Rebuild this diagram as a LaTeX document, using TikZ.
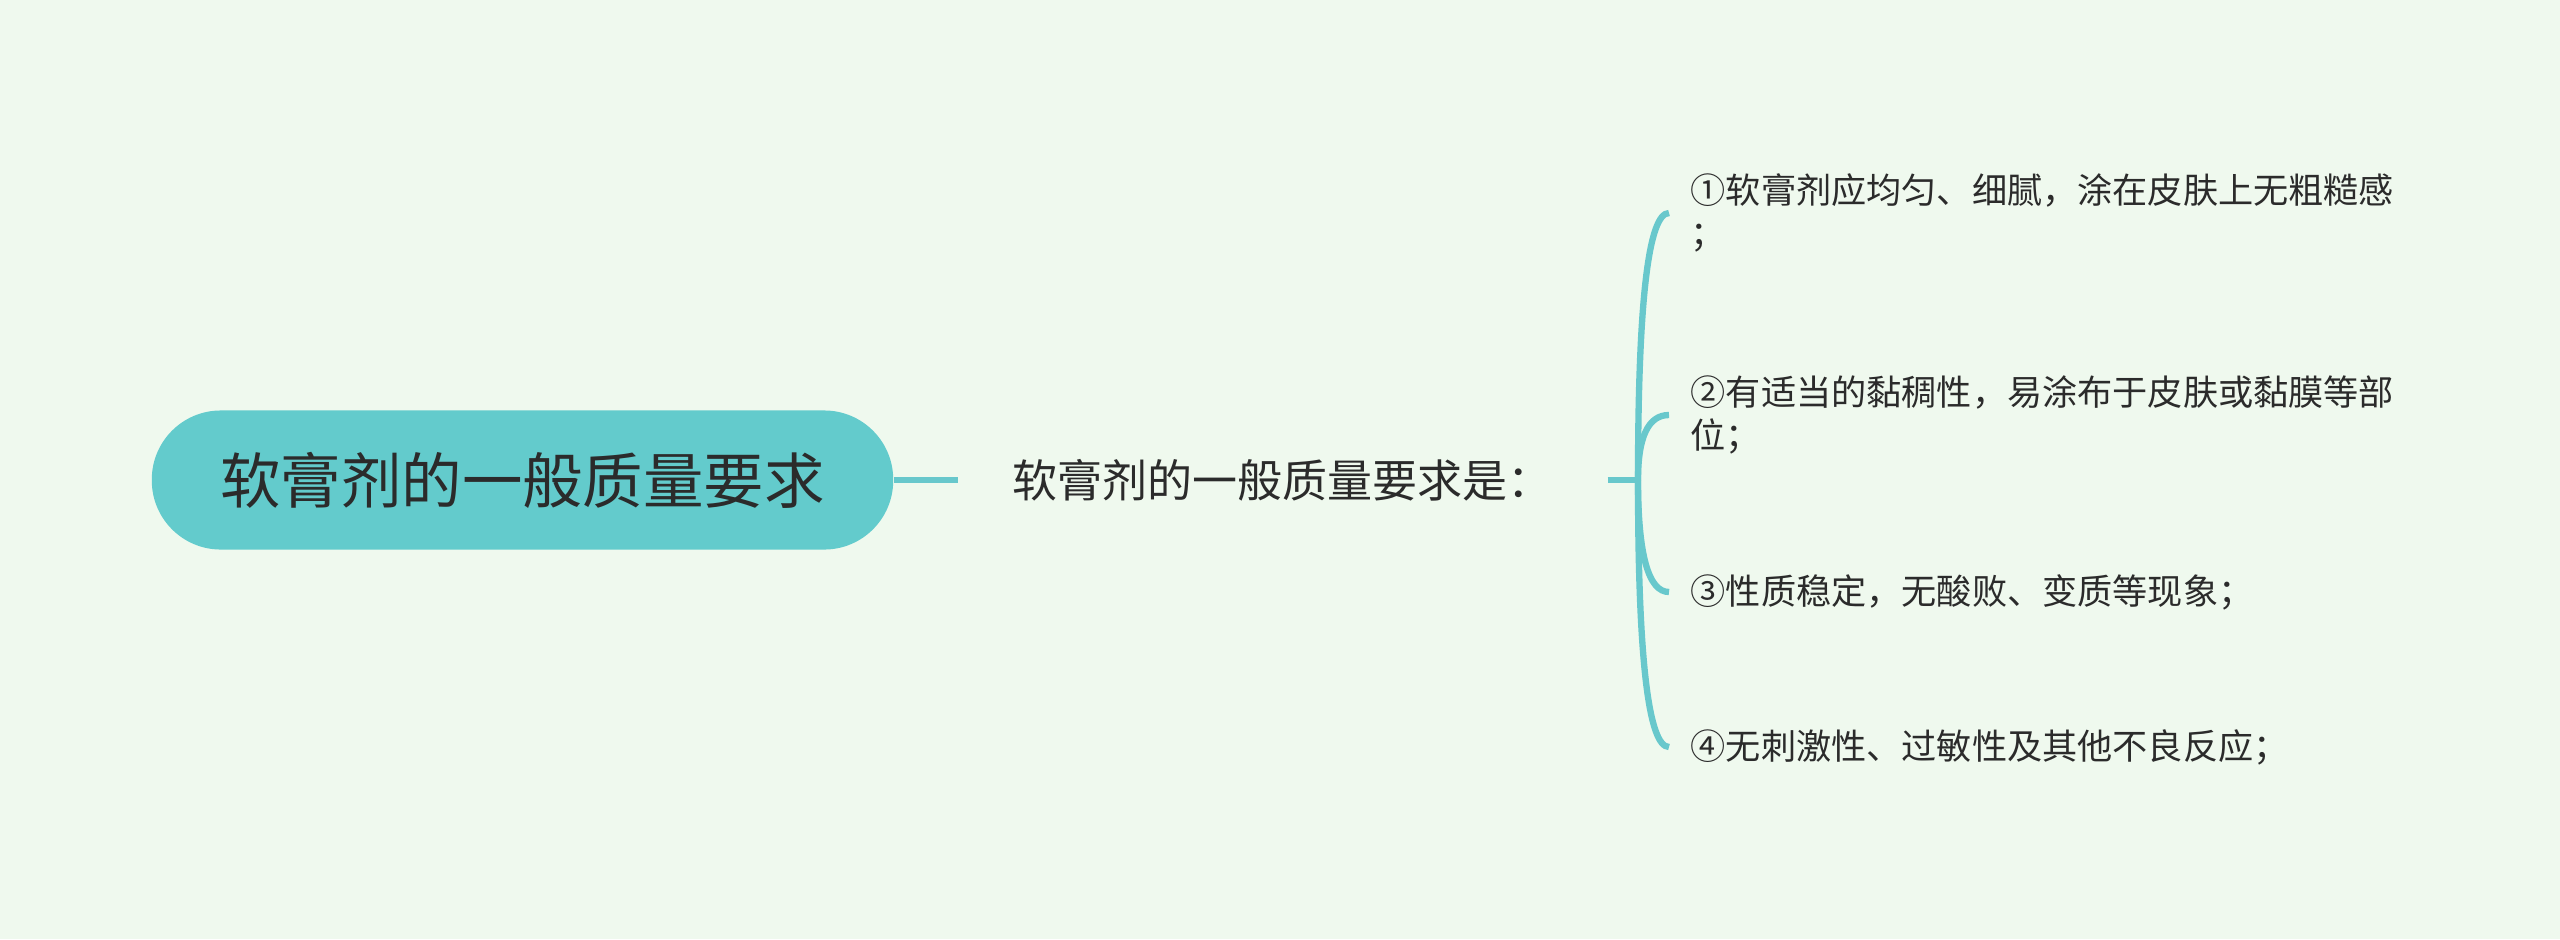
\documentclass[tikz,border=0pt]{standalone}
\usepackage{fontspec}
\usetikzlibrary{calc}
\newfontfamily\cjk{Noto Sans CJK SC}
\definecolor{bgcol}{HTML}{EFF9EE}
\definecolor{pillcol}{HTML}{63CBCC}
\definecolor{linecol}{HTML}{68C8CC}
\definecolor{txtcol}{HTML}{2B2B2B}

\begin{document}
\begin{tikzpicture}[x=0.01cm, y=-0.01cm,
  link/.style={draw=linecol, line width=1.8pt},
  rootbox/.style={fill=pillcol, rounded corners=0.69cm, minimum width=7.41cm,
    minimum height=1.39cm, inner sep=0pt, text=txtcol,
    font=\cjk\fontsize{17.2}{20}\selectfont},
  midtext/.style={anchor=west, inner xsep=0.54cm, inner ysep=0pt, text=txtcol,
    font=\cjk\fontsize{12.8}{15}\selectfont},
  itemtext/.style={anchor=west, inner xsep=0.21cm, inner ysep=0pt, align=left,
    text=txtcol, font=\cjk\fontsize{10}{12.3}\selectfont}]

% Canvas
\fill[bgcol] (0,0) rectangle (2560,939);
\useasboundingbox (0,0) rectangle (2560,939);

% Root and middle text
\node[rootbox] (root) at (522.5,480) {软膏剂的一般质量要求};
\node[midtext] (mid) at (958,480) {软膏剂的一般质量要求是：};
\draw[link] (root) -- (mid);

% Fork point
\coordinate (fork) at (1638,480);
\draw[link] (mid) -- (fork);

% Items
\node[itemtext] (req1) at (1669,213) {①软膏剂应均匀、细腻，涂在皮肤上无粗糙感\\；};
\node[itemtext] (req2) at (1669,415) {②有适当的黏稠性，易涂布于皮肤或黏膜等部\\位；};
\node[itemtext] (req3) at (1669,592) {③性质稳定，无酸败、变质等现象；};
\node[itemtext] (req4) at (1669,747) {④无刺激性、过敏性及其他不良反应；};

% Branches (quadratic bends through the corner)
\foreach \r in {req1,req2,req3,req4} {
  \coordinate (bend) at (fork |- \r.west);
  \draw[link] (fork) .. controls ($(fork)!2/3!(bend)$) and ($(\r.west)!2/3!(bend)$) .. (\r.west);
}

\end{tikzpicture}
\end{document}
